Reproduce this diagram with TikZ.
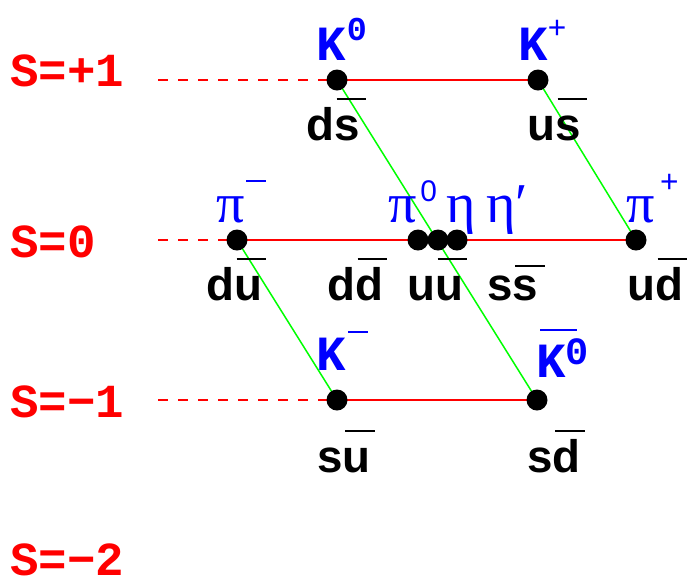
\documentclass[tikz,border=0pt]{standalone}
\usepackage{fontspec}
\setmainfont{Liberation Sans}
\newfontfamily\monofont{Liberation Mono}
\newfontfamily\greekfont{Liberation Serif}
\usetikzlibrary{backgrounds}

% antiquark bar over a letter
\newcommand{\qbar}[2][0.87em]{\rlap{\kern0.05em\raisebox{#1}{\rule{0.65em}{0.045em}}}#2}
\newcommand{\supsym}[3]{\raisebox{#1}{\normalfont\fontsize{#2}{#2}\selectfont #3}}

\tikzset{
  meson/.style={circle, fill=black, inner sep=0pt, minimum size=0.42cm},
  quark/.style={anchor=base west, inner sep=0pt, font=\fontsize{26}{26}\selectfont\bfseries},
  klabel/.style={anchor=base west, inner sep=0pt, text=blue, font=\fontsize{28}{28}\monofont\bfseries},
  glabel/.style={anchor=base west, inner sep=0pt, text=blue, font=\fontsize{32}{32}\greekfont},
  slabel/.style={anchor=base west, inner sep=0pt, text=red, font=\fontsize{27}{27}\monofont\bfseries},
  strange/.style={red, line width=1.1pt},
  guide/.style={red, line width=1.1pt, dash pattern=on 5.7pt off 5.7pt},
  isospin/.style={green, line width=0.85pt}
}

\begin{document}
\begin{tikzpicture}[x=0.02cm, y=-0.02cm]
\useasboundingbox (0,0) rectangle (687,583);

% strangeness
\node[slabel] (s1) at (10,86) {S=+1};
\node[slabel] (s0) at (10,257) {S=0};
\node[slabel] (sm1) at (10,417) {S=−1};
\node[slabel] (sm2) at (10,575) {S=−2};

\coordinate (g1) at (158,80);
\coordinate (g0) at (158,240);
\coordinate (gm1) at (158,400);

% mesons
\node[meson] (k0) at (337,80) {};
\node[meson] (kp) at (538,80) {};
\node[meson] (pim) at (237,240) {};
\node[meson] (pi0) at (418,240) {};
\node[meson] (eta) at (438,240) {};
\node[meson] (etap) at (457,240) {};
\node[meson] (pip) at (636,240) {};
\node[meson] (km) at (337,400) {};
\node[meson] (kb0) at (537,400) {};

\begin{scope}[on background layer]
\draw[guide] (g1) -- (k0.center);
\draw[guide] (g0) -- (pim.center);
\draw[guide] (gm1) -- (km.center);
\draw[strange] (k0.center) -- (kp.center);
\draw[strange] (pim.center) -- (pip.center);
\draw[strange] (km.center) -- (kb0.center);
\draw[isospin] (k0.center) -- (kb0.center);
\draw[isospin] (kp.center) -- (pip.center);
\draw[isospin] (pim.center) -- (km.center);
\end{scope}

% names
\node[klabel] (lk0) at (316,60) {K\kern0.5pt\raisebox{11pt}{\fontsize{19}{19}\selectfont 0}};
\node[klabel] (lkp) at (518,60) {K\supsym{12pt}{18}{+}};
\node[klabel] (lkm) at (316,370) {K\kern1.4pt\raisebox{21pt}{\rule{11pt}{1.1pt}}};
\node[klabel] (lkb0) at (536,377) {\rlap{\kern2.3pt\raisebox{26pt}{\rule{21pt}{1.1pt}}}K\raisebox{7pt}{\fontsize{22}{22}\selectfont 0}};
\node[glabel] (lpim) at (216,222) {π\kern1pt\raisebox{22.7pt}{\rule{11pt}{1.1pt}}};
\node[glabel] (lpi0) at (388,222) {π\kern2pt\supsym{11.4pt}{17}{0}};
\node[glabel] (leta) at (446,222) {η};
\node[glabel] (letap) at (486,222) {η′};
\node[glabel] (lpip) at (626,222) {π\kern3pt\supsym{16.7pt}{18}{+}};

% quark content
\node[quark] (qds) at (306,140) {d\qbar{s}};
\node[quark] (qus) at (527,140) {u\qbar{s}};
\node[quark] (qdu) at (206,300) {d\qbar{u}};
\node[quark] (qdd) at (327,300) {d\qbar{d}};
\node[quark] (quu) at (407,300) {u\qbar{u}};
\node[quark] (qss) at (487,300) {s\qbar[0.72em]{s}};
\node[quark] (qud) at (627,300) {u\qbar{d}};
\node[quark] (qsu) at (317,472) {s\qbar{u}};
\node[quark] (qsd) at (527,472) {s\qbar{d}};
\end{tikzpicture}
\end{document}
